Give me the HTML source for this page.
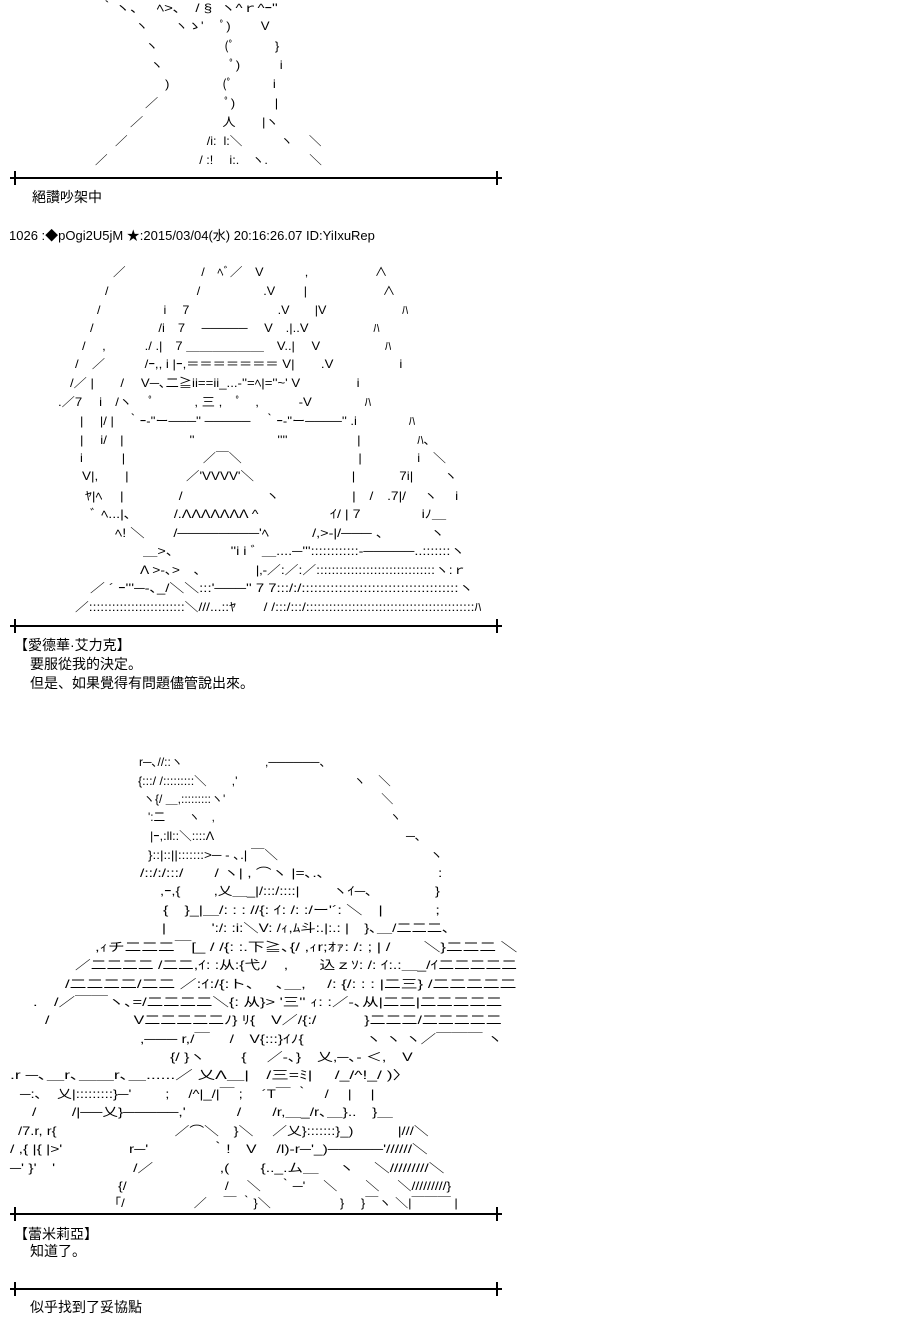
<!DOCTYPE html>
<html><head><meta charset="utf-8"><style>
body{margin:0;background:#fff;width:899px;height:1334px;position:relative;overflow:hidden;font-family:"Liberation Sans","Noto Sans CJK JP",sans-serif;color:#000}
.a{position:absolute;white-space:pre;font-size:12px;line-height:14px;transform:scaleX(var(--s,1));transform-origin:0 0}
.t{position:absolute;white-space:pre;font-size:14px;line-height:16px}
.r{position:absolute;left:10px;width:492px;height:2px;background:#000}
.r:before,.r:after{content:"";position:absolute;top:-6px;width:2px;height:14px;background:#000}
.r:before{left:4px}.r:after{right:4px}
</style></head><body>
<!-- AA 1 -->
<div class="a" style="top:1px;left:100px;--s:1.25">｀ヽ、　 ﾍ&gt;､　/ §  ヽ^ｒ^ｰ''</div>
<div class="a" style="top:19px;left:135px;--s:1.1">ヽ　　ヽゝ'　 ﾟ)　　 V</div>
<div class="a" style="top:39px;left:145px;--s:1.1">ヽ　　　　　(ﾟ　　　}</div>
<div class="a" style="top:58px;left:150px;--s:1.1">ヽ　　　　　ﾟ)　　　i</div>
<div class="a" style="top:77px;left:165px;--s:1.1">)　　　　(ﾟ　　　i</div>
<div class="a" style="top:96px;left:145px;--s:1.1">／　　　　　ﾟ)　　　|</div>
<div class="a" style="top:115px;left:130px;--s:1.1">／　　　　　　人　　|ヽ</div>
<div class="a" style="top:134px;left:115px;--s:1.05">／　　　　　　 /i:  l:＼　　　ヽ　 ＼</div>
<div class="a" style="top:153px;left:95px;--s:1.05">／　　　　　　　 / :!　 i:.　ヽ.　　　 ＼</div>
<div class="r" style="top:177px"></div>
<div class="t" style="top:189px;left:32px">絕讚吵架中</div>
<div class="t" style="top:228px;left:9px;font-size:13px">1026 :◆pOgi2U5jM ★:2015/03/04(水) 20:16:26.07 ID:YiIxuRep</div>
<!-- AA 2 -->
<div class="a" style="top:265px;left:113px;--s:1.05">／　　　　　　/　ﾍﾞ／　V　　　 ,　　　　　 ∧</div>
<div class="a" style="top:284px;left:105px;--s:1.05">/　　　　　　　/　　　　　.V　　 |　　　　　　∧</div>
<div class="a" style="top:303px;left:97px;--s:1.05">/　　　　　i　 7　　　　　　　.V　　|V　　　　　　ﾊ</div>
<div class="a" style="top:321px;left:90px;--s:1.08">/　　　　　/i　7　 ─────　 V　.|..V　　　　　ﾊ</div>
<div class="a" style="top:339px;left:82px;--s:1.08">/　 ,　　　./ .|　7 ＿＿＿＿＿＿　V..|　 V　　　　　ﾊ</div>
<div class="a" style="top:357px;left:75px;--s:1.1">/　／　　　/ｰ,, i |ｰ,＝＝＝＝＝＝＝ V|　　.V　　　　　i</div>
<div class="a" style="top:376px;left:70px;--s:1.1">/／ |　　/　 V─､二≧ii==ii_...-''=ﾍ|=''~' V　　　　 i</div>
<div class="a" style="top:395px;left:58px;--s:1.1">.／7　 i　/ヽ　 ﾟ　　　, 三 ,　ﾟ　,　　　-V　　　　ﾊ</div>
<div class="a" style="top:414px;left:80px;--s:1.08">|　 |/ |　｀ｰ-''ー───'' ─────　｀ｰ-''ー────'' .i　　　　ﾊ</div>
<div class="a" style="top:433px;left:80px;--s:1.1">|　 i/　|　　　　　''　　　　　　 ''''　　　　　 |　　　　 ﾊ､</div>
<div class="a" style="top:451px;left:80px;--s:1.08">i　　　|　　　　　　／￣＼　　　　　　　　　|　　　　 i　＼</div>
<div class="a" style="top:469px;left:82px;--s:1.12">V|,　　|　　　　 ／'VVVV'＼　　　　　　　 |　　　 7i|　　 ヽ</div>
<div class="a" style="top:489px;left:85px;--s:1.15">ﾔ|ﾍ　 |　　　　/　　　　　　ヽ　　　　　 |　/　.7|/　 ヽ　 i</div>
<div class="a" style="top:507px;left:90px;--s:1.19">ﾞ ﾍ...|､　　　/.ΛΛΛΛΛΛΛ ^　　　　　ｲ/ | 7　　　　 iﾉ＿</div>
<div class="a" style="top:526px;left:115px;--s:1.2">ﾍ! ＼　　/────────'ﾍ　　　/,&gt;-|/─── 、　　　 ヽ</div>
<div class="a" style="top:544px;left:143px;--s:1.2">＿&gt;、　　　　''i i ﾞ ＿....─'''::::::::::::-─────..:::::::ヽ</div>
<div class="a" style="top:563px;left:140px;--s:1.15">Λ &gt;-､&gt;　､　　　　|‚-／:／:／:::::::::::::::::::::::::::::::ヽ:ｒ</div>
<div class="a" style="top:581px;left:90px;--s:1.24">／ ´ ｰ'''─-､_/＼＼:::'───'' 7 7:::/:/::::::::::::::::::::::::::::::::::::::ヽ</div>
<div class="a" style="top:600px;left:75px;--s:1.15">／:::::::::::::::::::::::::＼///...::ﾔ　　/ /:::/:::/::::::::::::::::::::::::::::::::::::::::::::ﾊ</div>
<div class="r" style="top:625px"></div>
<div class="t" style="top:637px;left:14px">【愛德華·艾力克】</div>
<div class="t" style="top:656px;left:30px">要服從我的決定。</div>
<div class="t" style="top:675px;left:30px">但是、如果覺得有問題儘管說出來。</div>
<!-- AA 3 -->
<div class="a" style="top:755px;left:139px">r─､//::ヽ</div>
<div class="a" style="top:755px;left:265px">,──────、</div>
<div class="a" style="top:774px;left:138px;--s:1.04">{:::/ /:::::::::＼　　,'　　　　　　　　　 ヽ　＼</div>
<div class="a" style="top:792px;left:143px">ヽ{/ ＿,:::::::::ヽ'　　　　　　　　　　　　　＼</div>
<div class="a" style="top:810px;left:148px;--s:0.97">':二　　ヽ　,　　　　　　　　　　　　　　　ヽ</div>
<div class="a" style="top:829px;left:150px;--s:1.05">|ｰ,:ll::＼::::Λ　　　　　　　　　　　　　　　 ─､</div>
<div class="a" style="top:848px;left:148px;--s:1.12">}::|::||:::::::&gt;─ - ､.| ￣＼　　　　　　　　　　　 ヽ</div>
<div class="a" style="top:866px;left:140px;--s:1.3">/::/:/:::/　　/ ヽ| , ⌒ヽ |=､.､　　　　　　　 :</div>
<div class="a" style="top:884px;left:160px;--s:1.22">,ｰ,{　　 ,乂＿_|/:::/::::|　　 ヽｲ─､　　　　 }</div>
<div class="a" style="top:903px;left:163px;--s:1.34">{　}_|＿/: : : //{: ｲ: /: :/ー'´: ＼　|　　　 ;</div>
<div class="a" style="top:921px;left:162px;--s:1.27">|　　　':/: :i:＼V: /ｨ,ﾑ斗:.|:.: |　}､＿/二二二､</div>
<div class="a" style="top:940px;left:95px;--s:1.39">,ｨチ二二二￣[_ / /{: :.下≧､{/ ,ｨr;ｵｧ: /: ; | /　　＼}二二二 ＼</div>
<div class="a" style="top:958px;left:75px;--s:1.31">／二二二二 /二二,ｲ: :从:{弋ﾉ　,　　込ｚｿ: /: ｲ:.:＿_/ｲ二二二二二</div>
<div class="a" style="top:977px;left:65px;--s:1.4">/二二二二/二二 ／:ｲ:/{:ト､　 ､＿,　 /: {/: : : |二三} /二二二二二</div>
<div class="a" style="top:995px;left:33px;--s:1.37">.　/／￣￣ヽ､=/二二二二＼{: 从}&gt; '三'' ｨ: :／-､从|二二|二二二二二</div>
<div class="a" style="top:1013px;left:45px;--s:1.33">/　　　　　 V二二二二二ﾉ} ﾘ{　V／/{:/　　　}二二二/二二二二二</div>
<div class="a" style="top:1032px;left:140px;--s:1.29">,─── r,/￣　 /　V{:::}ｲﾉ{　　　　ヽ ヽ ヽ／￣￣￣ ヽ</div>
<div class="a" style="top:1050px;left:170px;--s:1.32">{/ }ヽ　　 {　 ／-､}　乂,─､- ＜,　V</div>
<div class="a" style="top:1068px;left:10px;--s:1.46">.r ─､＿r､＿＿r､＿......／ 乂Λ＿|　/三=ﾐ|　 /_/^!_/ )〉</div>
<div class="a" style="top:1087px;left:20px;--s:1.24">─:､　乂|:::::::::}─'　　 ;　 /^|_/|￣ ;　 ´T￣ ｀　/　 |　 |</div>
<div class="a" style="top:1105px;left:32px;--s:1.3">/　　 /|──乂}─────,'　　　 /　　/r,＿_/r､＿}..　}＿</div>
<div class="a" style="top:1124px;left:18px;--s:1.23">/7.r, r{　　　　　　　　／⌒＼　}＼　 ／乂}:::::::}_)　　　|///＼</div>
<div class="a" style="top:1142px;left:10px;--s:1.3">/ ,{ |{ |&gt;'　　　　 r─'　　　　｀!　V　 /l)-r─'_)─────'//////＼</div>
<div class="a" style="top:1161px;left:10px;--s:1.3">─' }'　'　　　　　/／　　　　 ,(　　{.._.ム＿　 ヽ　 ＼/////////＼</div>
<div class="a" style="top:1179px;left:118px;--s:1.17">{/　　　　　　　/　 ＼　 ｀─'　 ＼　　＼　 ＼/////////}</div>
<div class="a" style="top:1196px;left:108px;--s:1.09">「/　　　　　 ／　 ￣ ｀}＼　　　　　 }　 }￣ヽ ＼|￣￣￣ |</div>
<div class="r" style="top:1213px"></div>
<div class="t" style="top:1226px;left:14px">【蕾米莉亞】</div>
<div class="t" style="top:1243px;left:30px">知道了。</div>
<div class="r" style="top:1288px"></div>
<div class="t" style="top:1299px;left:30px">似乎找到了妥協點</div>
</body></html>
